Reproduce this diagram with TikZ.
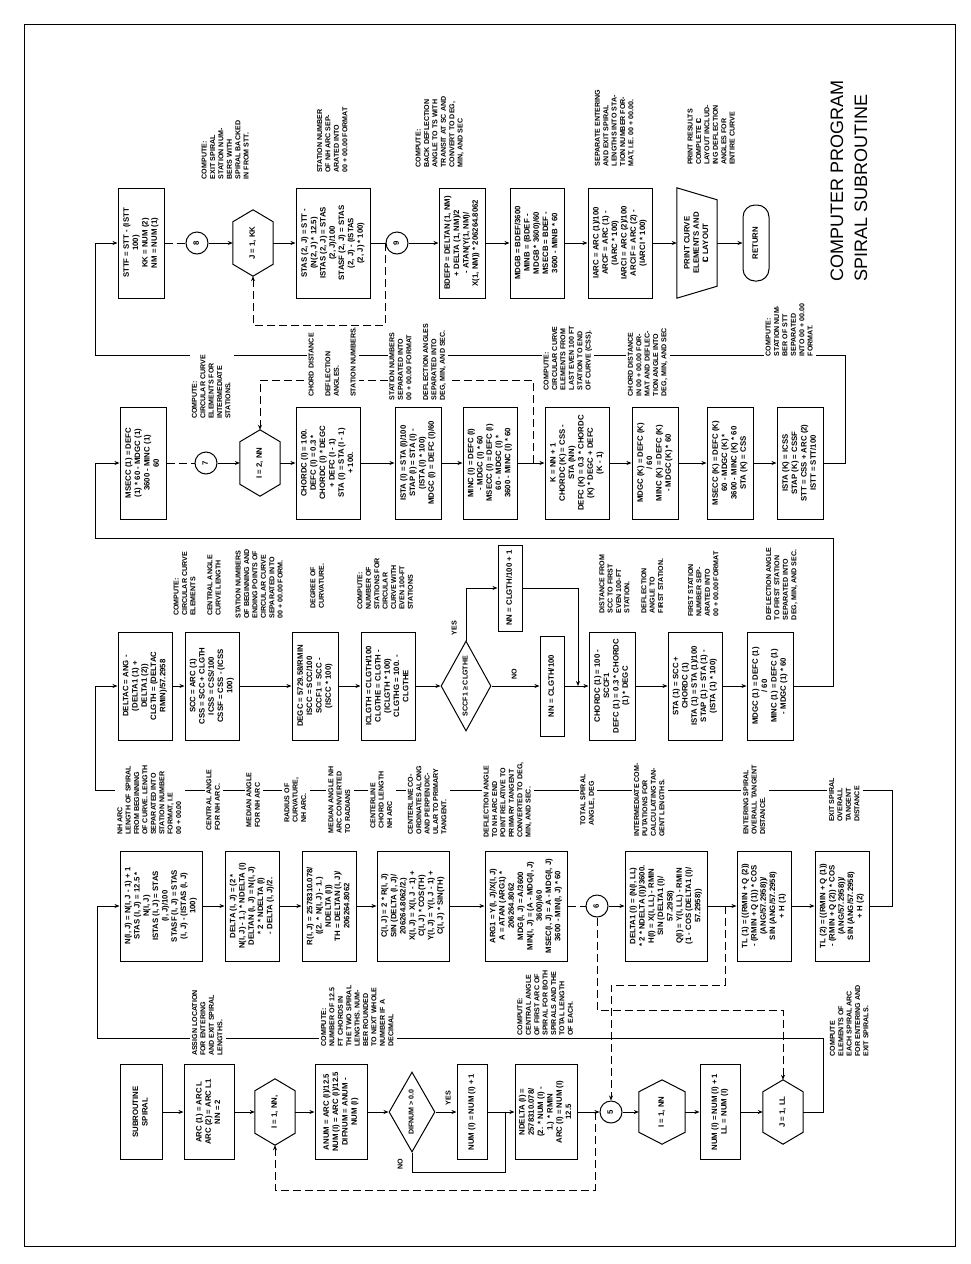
\documentclass[tikz,border=0pt]{standalone}
\usepackage{fontspec}
\setmainfont{Liberation Sans}
\usetikzlibrary{arrows.meta,calc,shapes.geometric}
\newcommand{\rc}[1]{\rotatebox{90}{\begin{tabular}{@{}c@{}}#1\end{tabular}}}
\newcommand{\rl}[1]{\rotatebox{90}{\begin{tabular}{@{}l@{}}#1\end{tabular}}}
\newcommand{\CL}{\ooalign{C\cr\hidewidth L\hidewidth\cr}}
\newcommand{\hexout}[2]{\draw[line width=1pt] (#1.north) -- ($(#1.north east)+(0,#2)$) -- ($(#1.south east)+(0,-#2)$) -- (#1.south) -- ($(#1.south west)+(0,-#2)$) -- ($(#1.north west)+(0,#2)$) -- cycle;}
\begin{document}
\begin{tikzpicture}[x=1pt,y=-1pt,
 box/.style={draw, line width=1pt, inner sep=0pt, fill=white, font=\fontsize{7.8}{9.3}\selectfont\bfseries},
 ann/.style={inner sep=1pt, fill=white, font=\fontsize{7.1}{8.4}\selectfont\bfseries},
 ln/.style={line width=1pt},
 arr/.style={line width=1pt, -{Stealth[length=5pt,width=4pt]}},
 dsh/.style={line width=1pt, dash pattern=on 8pt off 4pt},
 dsha/.style={line width=1pt, dash pattern=on 8pt off 4pt, -{Stealth[length=5pt,width=4pt]}},
 circ/.style={circle, draw, line width=1pt, minimum size=22pt, inner sep=0pt, fill=white, font=\fontsize{7.8}{9}\selectfont\bfseries},
 hexa/.style={inner sep=0pt, font=\fontsize{7.8}{9.3}\selectfont\bfseries},
 dia/.style={diamond, draw, line width=1pt, inner sep=0pt, fill=white},
 lbl/.style={inner sep=1pt, font=\fontsize{7.1}{8.4}\selectfont\bfseries},
]
\useasboundingbox (0,0) rectangle (971,1264);
\draw[line width=0.8pt] (24,24) rectangle (955,1246);

% ---------- Row A ----------
\node[box, minimum width=42pt, minimum height=95pt] (A1) at (141,1112) {\rc{SUBROUTINE\\SPIRAL}};
\node[box, minimum width=50pt, minimum height=95pt] (A2) at (209,1112) {\rc{ARC (1) = ARC L\\ARC (2) = ARC L1\\NN = 2}};
\node[hexa, minimum width=40pt, minimum height=66pt] (A3) at (275,1112) {\rc{I = 1, NN,}};
\hexout{A3}{12}
\node[box, minimum width=52pt, minimum height=95pt] (A4) at (341,1112) {\rc{ANUM = ARC (I)/12.5\\NUM (I) = ARC (I)/12.5\\DIFNUM = ANUM -\\NUM (I)}};
\node[dia, minimum width=46pt, minimum height=80pt, label={[lbl]center:{\rc{DIFNUM > 0.0}}}] (A5) at (412,1112) {};
\node[box, minimum width=30pt, minimum height=95pt] (A6) at (472,1112) {\rc{NUM (I) = NUM (I) + 1}};
\node[box, minimum width=62pt, minimum height=95pt] (A7) at (546,1112) {\rc{NDELTA (I) =\\2578310.078/\\(2. * NUM (I) -\\1.) * RMIN\\ARC (I) = NUM (I)\\* 12.5}};
\node[circ] (c5) at (611,1112) {\rc{5}};
\node[hexa, minimum width=46pt, minimum height=64pt] (A9) at (662,1112) {\rc{I = 1, NN}};
\hexout{A9}{12}
\node[box, minimum width=40pt, minimum height=95pt] (A10) at (720,1112) {\rc{NUM (I) = NUM (I) + 1\\LL = NUM (I)}};
\node[hexa, minimum width=40pt, minimum height=64pt] (A11) at (783,1112) {\rc{J = 1, LL}};
\hexout{A11}{12}

% ---------- Row B ----------
\node[box, minimum width=82pt, minimum height=110pt] (B1) at (161,906) {\rc{N(I, J) = N(I, J - 1) + 1\\STAS (I, J) = 12.5 *\\N(I, J)\\ISTAS (I, J) = STAS\\(I, J)/100\\STASF (I, J) = STAS\\(I, J) - (ISTAS (I, J)\\* 100)}};
\node[box, minimum width=54pt, minimum height=110pt] (B2) at (252,906) {\rc{DELTA (I, J) = (2 *\\N(I, J) - 1.) * NDELTA (I)\\DELTAN (I, J) = N(I, J)\\** 2 * NDELTA (I)\\- DELTA (I, J)/2.}};
\node[box, minimum width=54pt, minimum height=110pt] (B3) at (329,906) {\rc{R(I, J) = 2578310.078/\\((2. * N(I, J) - 1.)\\* NDELTA (I))\\TH = DELTAN (I, J)/\\206264.8062}};
\node[box, minimum width=72pt, minimum height=110pt] (B4) at (413,906) {\rc{C(I, J) = 2 * R(I, J)\\* SIN (DELTA (I, J)/\\206264.8062/2.)\\X(I, J) = X(I, J - 1) +\\C(I, J) * COS(TH)\\Y(I, J) = Y(I, J - 1) +\\C(I, J) * SIN(TH)}};
\node[box, minimum width=82pt, minimum height=110pt] (B5) at (526,906) {\rc{ARG1 = Y(I, J)/X(I, J)\\A = ATAN (ARG1) *\\206264.8062\\MDG(I, J) = A/3600\\MIN(I, J) = (A - MDG(I, J)\\* 3600)/60\\MSEC(I, J) = A - MDG(I, J)\\* 3600 - MIN(I, J) * 60}};
\node[circ] (c6) at (597,906) {\rc{6}};
\node[box, minimum width=82pt, minimum height=110pt] (B6) at (666,906) {\rc{DELTA1 (I) = (N(I, LL)\\** 2 * NDELTA (I))/3600.\\H(I) = X(I, LL) - RMIN\\* SIN (DELTA1 (I)/\\57.2958)\\Q(I) = Y(I, LL) - RMIN\\* (1 - COS (DELTA1 (I)/\\57.2958))}};
\node[box, minimum width=54pt, minimum height=110pt] (B7) at (764,906) {\rc{TL (1) = ((RMIN + Q (2))\\- (RMIN + Q (1)) * COS\\(ANG/57.2958))/\\SIN (ANG/57.2958)\\+ H (1)}};
\node[box, minimum width=54pt, minimum height=110pt] (B8) at (842,906) {\rc{TL (2) = ((RMIN + Q (1))\\- (RMIN + Q (2)) * COS\\(ANG/57.2958))/\\SIN (ANG/57.2958)\\+ H (2)}};

% ---------- Row C ----------
\node[box, minimum width=54pt, minimum height=108pt] (C1) at (145,686) {\rc{DELTAC = ANG -\\(DELTA1 (1) +\\DELTA1 (2))\\CLGTH = (DELTAC\\* RMIN)/57.2958}};
\node[box, minimum width=54pt, minimum height=108pt] (C2) at (212,686) {\rc{SCC = ARC (1)\\CSS = SCC + CLGTH\\ICSS = CSS/100\\CSSF = CSS - (ICSS\\* 100)}};
\node[box, minimum width=46pt, minimum height=108pt] (C3) at (315,686) {\rc{DEGC = 5729.58/RMIN\\ISCC = SCC/100\\SCCF1 = SCC -\\(ISCC * 100)}};
\node[box, minimum width=54pt, minimum height=108pt] (C4) at (388,686) {\rc{ICLGTH = CLGTH/100\\CLGTHE = CLGTH -\\(ICLGTH * 100)\\CLGTHG = 100. -\\CLGTHE}};
\node[dia, minimum width=50pt, minimum height=90pt, label={[lbl]center:{\rc{SCCF1 ≥ CLGTHE}}}] (C5) at (466,686) {};
\node[box, minimum width=24pt, minimum height=86pt] (C6) at (510,588) {\rc{NN = CLGTH/100 + 1}};
\node[box, minimum width=24pt, minimum height=100pt] (C7) at (552,686) {\rc{NN = CLGTH/100}};
\node[box, minimum width=46pt, minimum height=108pt] (C8) at (612,686) {\rc{CHORDC (1) = 100 -\\SCCF1\\DEFC (1) = 0.3 * CHORDC\\(1) * DEGC}};
\node[box, minimum width=54pt, minimum height=108pt] (C9) at (695,686) {\rc{STA (1) = SCC +\\CHORDC (1)\\ISTA (1) = STA (1)/100\\STAP (1) = STA (1) -\\(ISTA (1) * 100)}};
\node[box, minimum width=46pt, minimum height=108pt] (C10) at (770,686) {\rc{MDGC (1) = DEFC (1)\\/ 60\\MINC (1) = DEFC (1)\\- MDGC (1) * 60}};

% ---------- Row D ----------
\node[box, minimum width=46pt, minimum height=112pt] (D1) at (143,463) {\rc{MSECC (1) = DEFC\\(1) * 60 - MDGC (1)\\* 3600 - MINC (1)\\* 60}};
\node[circ] (c7) at (206,463) {\rc{7}};
\node[hexa, minimum width=40pt, minimum height=66pt] (D2) at (260,463) {\rc{I = 2, NN}};
\hexout{D2}{12}
\node[box, minimum width=64pt, minimum height=112pt] (D3) at (328,463) {\rc{CHORDC (I) = 100.\\DEFC (I) = 0.3 *\\CHORDC (I) * DEGC\\+ DEFC (I - 1)\\STA (I) = STA (I - 1)\\+ 100.}};
\node[box, minimum width=46pt, minimum height=112pt] (D4) at (418,463) {\rc{ISTA (I) = STA (I)/100\\STAP (I) = STA (I) -\\(ISTA (I) * 100)\\MDGC (I) = DEFC (I)/60}};
\node[box, minimum width=54pt, minimum height=112pt] (D5) at (490,463) {\rc{MINC (I) = DEFC (I)\\- MDGC (I) * 60\\MSECC (I) = DEFC (I)\\* 60 - MDGC (I) *\\3600 - MINC (I) * 60}};
\node[box, minimum width=64pt, minimum height=112pt] (D6) at (577,463) {\rc{K = NN + 1\\CHORDC (K) = CSS -\\STA (NN)\\DEFC (K) = 0.3 * CHORDC\\(K) * DEGC + DEFC\\(K - 1)}};
\node[box, minimum width=46pt, minimum height=112pt] (D7) at (655,463) {\rc{MDGC (K) = DEFC (K)\\/ 60\\MINC (K) = DEFC (K)\\- MDGC (K) * 60}};
\node[box, minimum width=46pt, minimum height=112pt] (D8) at (730,463) {\rc{MSECC (K) = DEFC (K)\\* 60 - MDGC (K) *\\3600 - MINC (K) * 60\\STA (K) = CSS}};
\node[box, minimum width=46pt, minimum height=112pt] (D9) at (800,463) {\rc{ISTA (K) = ICSS\\STAP (K) = CSSF\\STT = CSS + ARC (2)\\ISTT = STT/100}};

% ---------- Row E ----------
\node[box, minimum width=46pt, minimum height=110pt] (E1) at (141,243) {\rc{STTF = STT - (ISTT\\* 100)\\KK = NUM (2)\\NM = NUM (1)}};
\node[circ] (c8) at (197,243) {\rc{8}};
\node[hexa, minimum width=40pt, minimum height=66pt] (E2) at (253,243) {\rc{J = 1, KK}};
\hexout{E2}{12}
\node[box, minimum width=74pt, minimum height=110pt] (E3) at (333,243) {\rc{STAS (2, J) = STT -\\(N(2, J) * 12.5)\\ISTAS (2, J) = STAS\\(2, J)/100\\STASF (2, J) = STAS\\(2, J) - (ISTAS\\(2, J) * 100)}};
\node[circ] (c9) at (397,243) {\rc{9}};
\node[box, minimum width=46pt, minimum height=110pt] (E4) at (462,243) {\rc{BDEFP = DELTAN (1, NM)\\+ DELTA (1, NM)/2\\- ATAN(Y(1, NM)/\\X(1, NM)) * 206264.8062}};
\node[box, minimum width=54pt, minimum height=110pt] (E5) at (537,243) {\rc{MDGB = BDEF/3600\\MINB = (BDEF -\\MDGB * 3600)/60\\MSECB = BDEF -\\3600 - MINB * 60}};
\node[box, minimum width=64pt, minimum height=110pt] (E6) at (620,243) {\rc{IARC = ARC (1)/100\\ARCF = ARC (1) -\\(IARC * 100)\\IARCI = ARC (2)/100\\ARCIF = ARC (2) -\\(IARCI * 100)}};
\node[hexa, minimum width=40pt, minimum height=110pt] (E7) at (697,243) {\rc{PRINT CURVE\\ELEMENTS AND\\\CL{} LAYOUT}};
\draw[ln] (E7.north west) -- (E7.south west) -- ($(E7.south east)+(0,-12)$) -- ($(E7.north east)+(0,12)$) -- cycle;
\node[box, rounded corners=12pt, minimum width=26pt, minimum height=76pt] (E8) at (756,243) {\rc{RETURN}};

% ---------- connectors ----------
\draw[arr] (A1) -- (A2);
\draw[arr] (A2) -- (A3);
\draw[arr] (A3) -- (A4);
\draw[arr] (A4) -- (A5);
\draw[arr] (A5) -- (A6);
\draw[arr] (A6) -- (A7);
\draw[arr] (A7) -- (c5);
\draw[arr] (c5) -- (A9);
\draw[arr] (A9) -- (A10);
\draw[arr] (A10) -- (A11);
\coordinate (nA1) at (412,1172);
\coordinate (nA2) at (505,1172);
\coordinate (nA3) at (505,1112);
\draw[ln] (A5.south) -- (nA1) -- (nA2) -- (nA3);

\draw[arr] (B1) -- (B2);
\draw[arr] (B2) -- (B3);
\draw[arr] (B3) -- (B4);
\draw[arr] (B4) -- (B5);
\draw[dsh] (B5) -- (c6);
\draw[arr] (c6) -- (B6);
\draw[arr] (B6) -- (B7);
\draw[arr] (B7) -- (B8);

\draw[arr] (C1) -- (C2);
\draw[arr] (C2) -- (C3);
\draw[arr] (C3) -- (C4);
\draw[arr] (C4) -- (C5);
\draw[arr] (C5) -- (C7);
\draw[arr] (C7) -- (C8);
\draw[arr] (C8) -- (C9);
\draw[arr] (C9) -- (C10);
\draw[arr] (C5.north) |- (C6);
\coordinate (mC1) at (578,588);
\coordinate (mC2) at (578,686);
\draw[arr] (C6) -- (mC1) -- (mC2);

\draw[dsh] (D1) -- (c7);
\draw[arr] (c7) -- (D2);
\draw[arr] (D2) -- (D3);
\draw[arr] (D3) -- (D4);
\draw[arr] (D4) -- (D5);
\draw[arr] (D5) -- (D6);
\draw[arr] (D6) -- (D7);
\draw[arr] (D7) -- (D8);
\draw[arr] (D8) -- (D9);

\draw[dsh] (E1) -- (c8);
\draw[arr] (c8) -- (E2);
\draw[arr] (E2) -- (E3);
\draw[ln] (E3) -- (c9);
\draw[arr] (c9) -- (E4);
\draw[arr] (E4) -- (E5);
\draw[arr] (E5) -- (E6);
\draw[arr] (E6) -- (E7);
\draw[arr] (E7) -- (E8);

% loop lines between rows
\coordinate (lAB1) at (823,1112); \coordinate (lAB2) at (823,1038); \coordinate (lAB3) at (97,1038);
\draw[arr] (A11) -- (lAB1) -- (lAB2) -- (lAB3) |- (B1);
\coordinate (lBC1) at (892,906); \coordinate (lBC2) at (892,790); \coordinate (lBC3) at (95,790);
\draw[arr] (B8) -- (lBC1) -- (lBC2) -- (lBC3) |- (C1);
\coordinate (lCD1) at (833,686); \coordinate (lCD2) at (833,538); \coordinate (lCD3) at (95,538);
\draw[arr] (C10) -- (lCD1) -- (lCD2) -- (lCD3) |- (D1);
\coordinate (lDE1) at (845,463); \coordinate (lDE2) at (845,355); \coordinate (lDE3) at (95,355);
\draw[arr] (D9) -- (lDE1) -- (lDE2) -- (lDE3) |- (E1);

% dashed loop returns
\coordinate (j5) at (595,1112); \coordinate (d1a) at (595,1190); \coordinate (d1b) at (275,1190);
\draw[dsha] (j5) -- (d1a) -- (d1b) -- (A3);
\coordinate (d2a) at (597,1010); \coordinate (d2b) at (783,1010);
\draw[dsha] (c6) -- (d2a) -- (d2b) -- (A11);
\coordinate (j6) at (725,906); \coordinate (d3a) at (725,985); \coordinate (d3b) at (611,985);
\draw[dsha] (j6) -- (d3a) -- (d3b) -- (c5);
\coordinate (j7) at (533,463); \coordinate (d4a) at (533,380); \coordinate (d4b) at (260,380);
\draw[dsha] (j7) -- (d4a) -- (d4b) -- (D2);
\coordinate (j8) at (385,243); \coordinate (d5a) at (385,325); \coordinate (d5b) at (253,325);
\draw[dsha] (j8) -- (d5a) -- (d5b) -- (E2);

% decision labels
\node[lbl] (yA) at (449,1098) {\rc{YES}};
\node[lbl] (nA) at (401,1164) {\rc{NO}};
\node[lbl] (yC) at (455,628) {\rc{YES}};
\node[lbl] (nC) at (515,674) {\rc{NO}};

% ---------- annotations ----------
\node[ann] (tE1) at (226,150) {\rl{COMPUTE:\\EXIT SPIRAL\\STATION NUM-\\BERS WITH\\SPIRAL BACKED\\IN FROM STT.}};
\node[ann] (tE2) at (333,140) {\rl{STATION NUMBER\\OF NH ARC SEP-\\ARATED INTO\\00 + 00.00 FORMAT}};
\node[ann] (tE3) at (440,132) {\rl{COMPUTE:\\BACK DEFLECTION\\ANGLE TO TS WITH\\TRANSIT AT SC AND\\CONVERT TO DEG,\\MIN, AND SEC}};
\node[ann] (tE4) at (615,128) {\rl{SEPARATE ENTERING\\AND EXIT SPIRAL\\LENGTHS INTO STA-\\TION NUMBER FOR-\\MAT, I.E. 00 + 00.00.}};
\node[ann] (tE5) at (712,135) {\rl{PRINT RESULTS\\COMPLETE \CL\\LAYOUT INCLUD-\\ING DEFLECTION\\ANGLES FOR\\ENTIRE CURVE}};

\node[ann] (tD1) at (212,387) {\rl{COMPUTE:\\CIRCULAR CURVE\\ELEMENTS FOR\\INTERMEDIATE\\STATIONS.}};
\node[ann] (tD2) at (333,362) {\rl{CHORD DISTANCE\\\\DEFLECTION\\ANGLES.\\\\STATION NUMBERS.}};
\node[ann] (tD3) at (418,362) {\rl{STATION NUMBERS\\SEPARATED INTO\\00 + 00.00 FORMAT\\\\DEFLECTION ANGLES\\SEPARATED INTO\\DEG, MIN, AND SEC.}};
\node[ann] (tD4) at (568,358) {\rl{COMPUTE:\\CIRCULAR CURVE\\ELEMENTS FROM\\LAST EVEN 100 FT\\STATION TO END\\OF CURVE (CSS).}};
\node[ann] (tD5) at (648,362) {\rl{CHORD DISTANCE\\IN 00 + 00.00 FOR-\\MAT AND DEFLEC-\\TION ANGLE INTO\\DEG, MIN, AND SEC}};
\node[ann] (tD6) at (790,330) {\rl{COMPUTE:\\STATION NUM-\\BER OF STT\\SEPARATED\\INTO 00 + 00.00\\FORMAT.}};

\node[ann] (tC1) at (198,584) {\rl{COMPUTE:\\CIRCULAR CURVE\\ELEMENTS\\\\CENTRAL ANGLE\\CURVE LENGTH}};
\node[ann] (tC2) at (260,584) {\rl{STATION NUMBERS\\OF BEGINNING AND\\ENDING POINTS OF\\CIRCULAR CURVE\\SEPARATED INTO\\00 + 00.00 FORM.}};
\node[ann] (tC3) at (318,586) {\rl{DEGREE OF\\CURVATURE.}};
\node[ann] (tC4) at (386,584) {\rl{COMPUTE:\\NUMBER OF\\STATIONS FOR\\CIRCULAR\\CURVE WITH\\EVEN 100-FT\\STATIONS}};
\node[ann] (tC5) at (632,584) {\rl{DISTANCE FROM\\SCC TO FIRST\\EVEN 100-FT\\STATION.\\\\DEFLECTION\\ANGLE TO\\FIRST STATION.}};
\node[ann] (tC6) at (704,584) {\rl{FIRST STATION\\NUMBER SEP-\\ARATED INTO\\00 + 00.00 FORMAT}};
\node[ann] (tC7) at (782,584) {\rl{DEFLECTION ANGLE\\TO FIRST STATION\\SEPARATED INTO\\DEG, MIN, AND SEC.}};

\node[ann] (tB1) at (150,800) {\rl{NH ARC\\LENGTH OF SPIRAL\\FROM BEGINNING\\OF CURVE. LENGTH\\SEPARATED INTO\\STATION NUMBER\\FORMAT, I.E\\00 + 00.00}};
\node[ann] (tB2) at (214,800) {\rl{CENTRAL ANGLE\\FOR NH ARC.}};
\node[ann] (tB3) at (254,800) {\rl{MEDIAN ANGLE\\FOR NH ARC}};
\node[ann] (tB4) at (296,800) {\rl{RADIUS OF\\CURVATURE,\\NH ARC.}};
\node[ann] (tB5) at (340,800) {\rl{MEDIAN ANGLE NH\\ARC CONVERTED\\TO RADIANS}};
\node[ann] (tB6) at (382,800) {\rl{CENTERLINE\\CHORD LENGTH\\NH ARC}};
\node[ann] (tB7) at (428,800) {\rl{CENTERLINE CO-\\ORDINATES ALONG\\AND PERPENDIC-\\ULAR TO PRIMARY\\TANGENT.}};
\node[ann] (tB8) at (508,800) {\rl{DEFLECTION ANGLE\\TO NH ARC END\\POINT RELATIVE TO\\PRIMARY TANGENT\\CONVERTED TO DEG,\\MIN, AND SEC.}};
\node[ann] (tB9) at (588,800) {\rl{TOTAL SPIRAL\\ANGLE, DEG}};
\node[ann] (tB10) at (650,800) {\rl{INTERMEDIATE COM-\\PUTATIONS FOR\\CALCULATING TAN-\\GENT LENGTHS.}};
\node[ann] (tB11) at (755,800) {\rl{ENTERING SPIRAL\\OVERALL TANGENT\\DISTANCE.}};
\node[ann] (tB12) at (845,800) {\rl{EXIT SPIRAL\\OVERALL\\TANGENT\\DISTANCE}};

\node[ann] (tA1) at (208,1023) {\rl{ASSIGN LOCATION\\FOR ENTERING\\AND EXIT SPIRAL\\LENGTHS.}};
\node[ann] (tA2) at (358,1016) {\rl{COMPUTE:\\NUMBER OF 12.5\\FT CHORDS IN\\THE TWO SPIRAL\\LENGTHS. NUM-\\BER ROUNDED\\TO NEXT WHOLE\\NUMBER IF A\\DECIMAL}};
\node[ann] (tA3) at (546,1003) {\rl{COMPUTE:\\CENTRAL ANGLE\\OF FIRST ARC OF\\SPIRAL FOR BOTH\\SPIRALS AND THE\\TOTAL LENGTH\\OF EACH.}};
\node[ann] (tA4) at (850,1021) {\rl{COMPUTE\\ELEMENTS OF\\EACH SPIRAL ARC\\FOR ENTERING AND\\EXIT SPIRALS.}};

% title
\node[anchor=south west, inner sep=0pt, font=\fontsize{18}{24}\selectfont] (title) at (826,282) {\rl{COMPUTER PROGRAM\\SPIRAL SUBROUTINE}};
\end{tikzpicture}
\end{document}
